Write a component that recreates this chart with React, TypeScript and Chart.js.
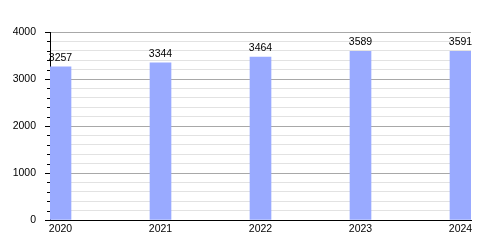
import React, { useEffect, useRef } from "react";
import { Chart, registerables } from "chart.js";

Chart.register(...registerables);

const years = [2020, 2021, 2022, 2023, 2024];
const values = [3257, 3344, 3464, 3589, 3591];
const yMax = 4000;
const majorStep = 1000;
const minorStep = 200;

const FONT = "Liberation Sans, Arial, sans-serif";

const valueLabels = {
  id: "valueLabels",
  afterDatasetsDraw(chart: any) {
    const ctx = chart.ctx;
    const meta = chart.getDatasetMeta(0);
    ctx.save();
    ctx.font = `10.5px ${FONT}`;
    ctx.fillStyle = "#000";
    ctx.textAlign = "center";
    ctx.textBaseline = "alphabetic";
    meta.data.forEach((bar: any, i: number) => {
      ctx.fillText(String(values[i]), bar.x, bar.y - 6);
    });
    ctx.restore();
  },
};

const minorTicks = {
  id: "minorTicks",
  afterDraw(chart: any) {
    const ctx = chart.ctx;
    const y = chart.scales.y;
    const left = chart.chartArea.left;
    ctx.save();
    ctx.strokeStyle = "#000";
    ctx.lineWidth = 1;
    y.ticks.forEach((t: any) => {
      if (t.value % majorStep !== 0) {
        const py = Math.round(y.getPixelForValue(t.value)) + 0.5;
        ctx.beginPath();
        ctx.moveTo(left - 3, py);
        ctx.lineTo(left, py);
        ctx.stroke();
      }
    });
    ctx.restore();
  },
};

export default function App() {
  const ref = useRef<HTMLCanvasElement>(null);
  useEffect(() => {
    document.body.style.margin = "0";
    const chart = new Chart(ref.current!, {
      type: "bar",
      data: {
        datasets: [
          {
            data: years.map((y, i) => ({ x: y, y: values[i] })),
            backgroundColor: "#99aaff",
            barThickness: 21,
          },
        ],
      },
      plugins: [valueLabels, minorTicks],
      options: {
        animation: false,
        responsive: false,
        layout: { padding: { top: 32, right: 29, left: 0, bottom: 0 } },
        plugins: { legend: { display: false }, tooltip: { enabled: false } },
        scales: {
          x: {
            type: "linear",
            offset: false,
            min: years[0] - 0.105,
            max: years[years.length - 1] + 0.105,
            afterBuildTicks: (axis: any) => {
              axis.ticks = years.map((v) => ({ value: v }));
            },
            afterFit: (s: any) => {
              s.height = 30;
            },
            grid: { display: false, drawTicks: false, offset: false },
            border: { display: true, color: "#000", width: 1 },
            ticks: {
              padding: 3,
              color: "#000",
              font: { family: FONT, size: 10.5 },
              callback: (v: any) => String(v),
              maxRotation: 0,
            },
          },
          y: {
            min: 0,
            max: yMax,
            afterFit: (s: any) => {
              s.width = 50;
            },
            grid: {
              color: (c: any) =>
                c.tick && c.tick.value % majorStep === 0 ? "#a8a8a8" : "#e2e2e2",
              tickColor: (c: any) =>
                c.tick && c.tick.value % majorStep === 0 ? "#000" : "rgba(0,0,0,0)",
              tickLength: 5,
            },
            border: { display: true, color: "#000", width: 1 },
            ticks: {
              stepSize: minorStep,
              autoSkip: false,
              padding: 9,
              color: "#000",
              font: { family: FONT, size: 10.5 },
              callback: (v: any) => (v % majorStep === 0 ? String(v) : ""),
            },
          },
        },
      },
    } as any);
    return () => chart.destroy();
  }, []);
  return (
    <div style={{ width: 500, height: 250 }}>
      <canvas ref={ref} width={500} height={250} />
    </div>
  );
}
